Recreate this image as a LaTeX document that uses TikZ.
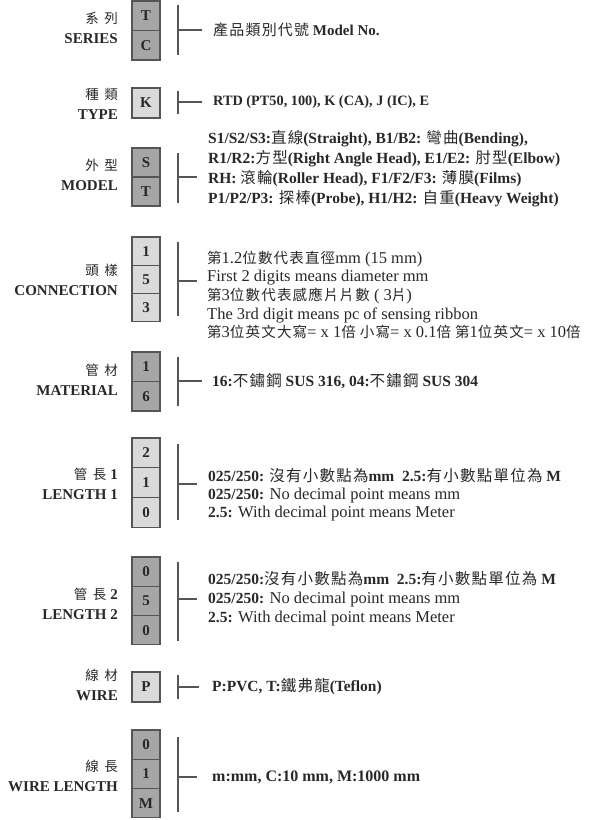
\documentclass[tikz,border=0pt]{standalone}
\usepackage{fontspec}
\setmainfont{Liberation Serif}
\newfontfamily\cjk[Scale=1.0,LetterSpace=8]{Noto Sans CJK TC}
\newfontfamily\cjkr[Scale=0.88,LetterSpace=8]{Noto Sans CJK TC}
\newfontfamily\cjkl[Scale=0.9,LetterSpace=40]{Noto Sans CJK TC}
\usepackage{tikz}
\usetikzlibrary{positioning}
\definecolor{codedunkel}{RGB}{166,166,166}
\definecolor{codehell}{RGB}{218,218,218}
\definecolor{rahmen}{RGB}{85,85,85}
\definecolor{schrift}{RGB}{40,40,40}
\tikzset{
  cell/.style={rectangle, draw=rahmen, line width=1.1pt, minimum width=28pt, minimum height=29.5pt, inner sep=0pt, outer sep=0pt, font=\bfseries\fontsize{15}{18}\selectfont, text=schrift},
  dcell/.style={cell, fill=codedunkel},
  lcell/.style={cell, fill=codehell},
  grplabel/.style={anchor=east, align=right, inner sep=0pt, font=\bfseries\fontsize{15}{20}\selectfont, text=schrift},
  desc/.style={anchor=west, align=left, inner sep=0pt, font=\fontsize{16.5}{19}\selectfont, text=schrift},
  bdesc/.style={desc, font=\bfseries\fontsize{15.5}{19}\selectfont},
  kante/.style={draw=rahmen, line width=1.1pt}
}
\newcommand{\zh}[1]{{\cjk\mdseries #1}}
\newcommand{\zhr}[1]{{\cjkr\mdseries #1}}
\newcommand{\zhl}[1]{{\cjkl\mdseries #1}\hspace{-3pt}}
\newcommand{\klammer}[5]{%
  \coordinate (#1-top) at (178,#2);
  \coordinate (#1-bot) at (178,#3);
  \coordinate (#1-mid) at (178,#4);
  \coordinate (#1-end) at (#5,#4);
  \draw[kante] (#1-top) -- (#1-bot);
  \draw[kante] (#1-mid) -- (#1-end);}

\begin{document}
\begin{tikzpicture}[x=1pt,y=-1pt]
\useasboundingbox (0,0) rectangle (596,820);

\node[dcell] (s-1) at (146,15.75) {T};
\node[dcell, below=0pt of s-1] (s-2) {C};
\node[grplabel] (s-lbl) at (118,28) {\zhl{系列}\\SERIES};
\klammer{s}{5}{55}{30}{202}
\node[bdesc, font=\bfseries\fontsize{15}{19}\selectfont] (s-txt) at (213,30) {\zh{產品類別代號} Model No.};

\node[lcell, minimum height=30pt] (t-1) at (146,103) {K};
\node[grplabel] (t-lbl) at (118,104) {\zhl{種類}\\TYPE};
\klammer{t}{91}{114}{102}{202}
\node[bdesc, font=\bfseries\fontsize{14.3}{19}\selectfont] (t-txt) at (213,102) {RTD (PT50, 100), K (CA), J (IC), E};

\node[dcell, minimum height=29pt] (m-1) at (146,162.5) {S};
\node[dcell, minimum height=29pt, below=0pt of m-1] (m-2) {T};
\node[grplabel] (m-lbl) at (118,174.5) {\zhl{外型}\\MODEL};
\klammer{m}{153}{203}{177}{197}
\node[bdesc, font=\bfseries\fontsize{15.5}{20}\selectfont] (m-txt) at (208,169) {S1/S2/S3:\zh{直線}(Straight), B1/B2: \zh{彎曲}(Bending),\\
R1/R2:\zh{方型}(Right Angle Head), E1/E2: \zh{肘型}(Elbow)\\
RH: \zh{滾輪}(Roller Head), F1/F2/F3: \zh{薄膜}(Films)\\
P1/P2/P3: \zh{探棒}(Probe), H1/H2: \zh{自重}(Heavy Weight)};

\node[lcell, minimum height=28.3pt] (c-1) at (146,251.15) {1};
\node[lcell, minimum height=28.3pt, below=0pt of c-1] (c-2) {5};
\node[lcell, minimum height=28.3pt, below=0pt of c-2] (c-3) {3};
\node[grplabel] (c-lbl) at (118,280) {\zhl{頭樣}\\CONNECTION};
\klammer{c}{242}{316}{281}{197}
\node[desc, font=\fontsize{16.5}{18.7}\selectfont] (c-txt) at (207,295) {\zhr{第}1.2\zhr{位數代表直徑}mm (15 mm)\\
First 2 digits means diameter mm\\
\zhr{第}3\zhr{位數代表感應片片數} ( 3\zhr{片})\\
The 3rd digit means pc of sensing ribbon\\
\zhr{第}3\zhr{位英文大寫}= x 1\zhr{倍} \zhr{小寫}= x 0.1\zhr{倍} \zhr{第}1\zhr{位英文}= x 10\zhr{倍}};

\node[dcell] (p-1) at (146,366.75) {1};
\node[dcell, below=0pt of p-1] (p-2) {6};
\node[grplabel] (p-lbl) at (118,379.5) {\zhl{管材}\\MATERIAL};
\klammer{p}{357}{406}{381}{202}
\node[bdesc] (p-txt) at (212,381) {16:\zh{不鏽鋼} SUS 316, 04:\zh{不鏽鋼} SUS 304};

\node[lcell, minimum height=29.7pt] (a-1) at (146,452.85) {2};
\node[lcell, minimum height=29.7pt, below=0pt of a-1] (a-2) {1};
\node[lcell, minimum height=29.7pt, below=0pt of a-2] (a-3) {0};
\node[grplabel] (a-lbl) at (118,484) {\zhl{管長}\hspace{7pt}1\\LENGTH 1};
\klammer{a}{444}{520}{484}{197}
\node[desc, font=\fontsize{16.5}{18}\selectfont] (a-txt) at (208,495) {{\bfseries\fontsize{15.5}{18}\selectfont 025/250: \zh{沒有小數點為}mm\ \ 2.5:\zh{有小數點單位為} M}\\
\textbf{\fontsize{15.5}{18}\selectfont 025/250:} No decimal point means mm\\
\textbf{\fontsize{15.5}{18}\selectfont 2.5:} With decimal point means Meter};

\node[dcell, minimum height=29.3pt] (b-1) at (146,571.65) {0};
\node[dcell, minimum height=29.3pt, below=0pt of b-1] (b-2) {5};
\node[dcell, minimum height=29.3pt, below=0pt of b-2] (b-3) {0};
\node[grplabel] (b-lbl) at (118,603.5) {\zhl{管長}\hspace{7pt}2\\LENGTH 2};
\klammer{b}{562}{641}{599}{197}
\node[desc, font=\fontsize{16.5}{19}\selectfont] (b-txt) at (208,599) {{\bfseries\fontsize{15.5}{19}\selectfont 025/250:\zh{沒有小數點為}mm\ \ 2.5:\zh{有小數點單位為} M}\\
\textbf{\fontsize{15.5}{19}\selectfont 025/250:} No decimal point means mm\\
\textbf{\fontsize{15.5}{19}\selectfont 2.5:} With decimal point means Meter};

\node[lcell, minimum height=30pt] (w-1) at (146,687) {P};
\node[grplabel] (w-lbl) at (118,684.5) {\zhl{線材}\\WIRE};
\klammer{w}{675}{699}{687}{199}
\node[bdesc] (w-txt) at (212,687) {P:PVC, T:\zh{鐵弗龍}(Teflon)};

\node[dcell, minimum height=29.3pt] (l-1) at (146,744.65) {0};
\node[dcell, minimum height=29.3pt, below=0pt of l-1] (l-2) {1};
\node[dcell, minimum height=29.3pt, below=0pt of l-2] (l-3) {M};
\node[grplabel] (l-lbl) at (118,776) {\zhl{線長}\\WIRE LENGTH};
\klammer{l}{737}{812}{777}{197}
\node[bdesc, font=\bfseries\fontsize{16}{19}\selectfont] (l-txt) at (212,777) {m:mm, C:10 mm, M:1000 mm};

\end{tikzpicture}
\end{document}
